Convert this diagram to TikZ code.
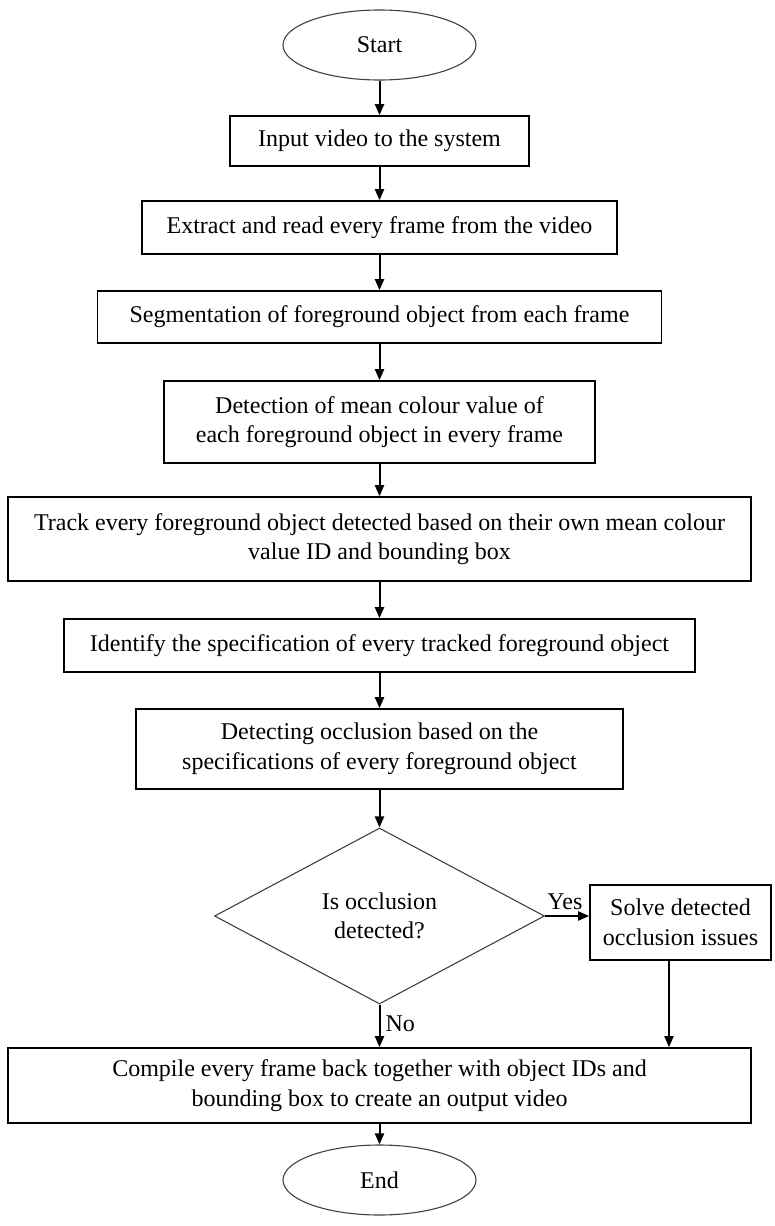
\documentclass[tikz,border=0pt]{standalone}
\usepackage{fontspec}
\setmainfont{Liberation Serif}
\usetikzlibrary{shapes.geometric,arrows.meta}

\tikzset{
  procbox/.style={draw=black, line width=1.6pt, rectangle, align=center,
    inner sep=0pt, font=\fontsize{24}{29.5}\selectfont},
  termnode/.style={draw=black!75, line width=1.1pt, ellipse, inner sep=0pt,
    minimum width=193pt, minimum height=70pt, font=\fontsize{24}{29.5}\selectfont},
  decnode/.style={draw=black!75, line width=1.1pt, diamond, aspect=1.875,
    inner sep=0pt, align=center, minimum width=330pt, minimum height=176pt,
    font=\fontsize{24}{29.5}\selectfont},
  flow/.style={line width=2pt, -{Triangle[length=11pt,width=9pt]}},
  lbl/.style={font=\fontsize{24}{29.5}\selectfont, inner sep=0pt}
}

\begin{document}
\begin{tikzpicture}[x=1pt,y=-1pt]
\useasboundingbox (0,0) rectangle (774,1226);

% terminals and process steps
\node[termnode] (start) at (379.5,45) {Start};
\node[procbox, minimum width=299pt, minimum height=50pt] (input) at (379.5,141)
  {Input video to the system};
\node[procbox, minimum width=475pt, minimum height=53pt] (extract) at (379.5,227.5)
  {Extract and read every frame from the video};
\node[procbox, minimum width=564pt, minimum height=52pt] (seg) at (379.5,317)
  {Segmentation of foreground object from each frame};
\node[procbox, minimum width=431pt, minimum height=82pt] (meancol) at (379.5,422)
  {Detection of mean colour value of\\each foreground object in every frame};
\node[procbox, minimum width=743pt, minimum height=84pt] (track) at (379.5,539)
  {Track every foreground object detected based on their own mean colour\\value ID and bounding box};
\node[procbox, minimum width=631pt, minimum height=53pt] (ident) at (379.5,645.5)
  {Identify the specification of every tracked foreground object};
\node[procbox, minimum width=487pt, minimum height=80pt] (occl) at (379.5,749)
  {Detecting occlusion based on the\\specifications of every foreground object};
\node[decnode] (isocc) at (379.5,916) {Is occlusion\\detected?};
\node[procbox, minimum width=181pt, minimum height=75pt] (solve) at (680.5,922.5)
  {Solve detected\\occlusion issues};
\node[procbox, minimum width=743pt, minimum height=75pt] (compile) at (379.5,1085.5)
  {Compile every frame back together with object IDs and\\bounding box to create an output video};
\node[termnode] (finish) at (379.5,1180) {End};

% connectors
\draw[flow] (start) -- (input);
\draw[flow] (input) -- (extract);
\draw[flow] (extract) -- (seg);
\draw[flow] (seg) -- (meancol);
\draw[flow] (meancol) -- (track);
\draw[flow] (track) -- (ident);
\draw[flow] (ident) -- (occl);
\draw[flow] (occl.south) -- (isocc.north);
\draw[flow] (isocc.east) -- (isocc.east -| solve.west) node[lbl, pos=0.45, above=5pt] {Yes};
\draw[flow] (isocc.south) -- (compile.north -| isocc.south) node[lbl, pos=0.45, right=5pt] {No};
\draw[flow] ([xshift=-11.5pt]solve.south) -- ([xshift=-11.5pt]solve.south |- compile.north);
\draw[flow] (compile) -- (finish);
\end{tikzpicture}
\end{document}
